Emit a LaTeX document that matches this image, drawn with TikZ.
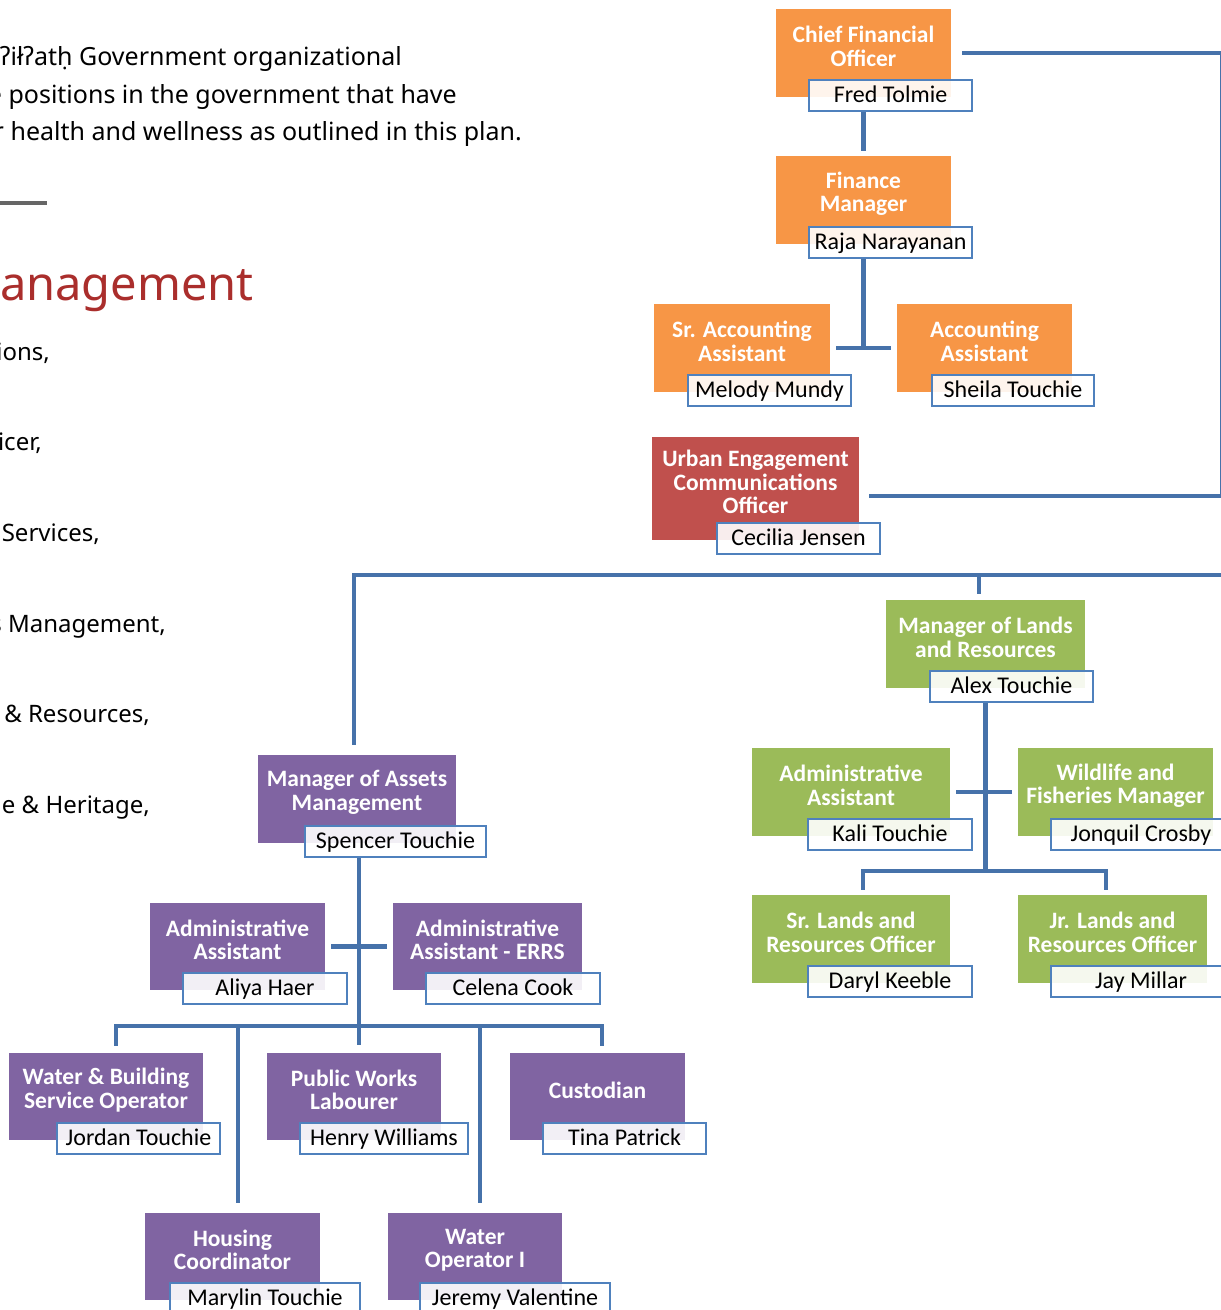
\documentclass[tikz,border=0pt]{standalone}
\usepackage{fontspec}
\newfontfamily\carl{Carlito}
\newfontfamily\bodyf{Noto Sans}
\definecolor{orng}{HTML}{F79646}
\definecolor{rdbox}{HTML}{C0504D}
\definecolor{grn}{HTML}{9BBB59}
\definecolor{prp}{HTML}{8064A2}
\definecolor{lnblue}{HTML}{4672AA}
\definecolor{nmblue}{HTML}{4F81BD}
\definecolor{headred}{HTML}{AA2E2C}
\definecolor{rulegray}{HTML}{666666}
\newcommand\role[7]{%
  \pgfmathsetmacro\rw{#5-#3}\pgfmathsetmacro\rh{#6-#4}%
  \node[titlebox, fill=#2, minimum width=\rw pt, minimum height=\rh pt] (#1) at ({(#3+#5)/2},{(#4+#6)/2}) {};
  \node[titletext] (#1-t) at ({(#3+#5)/2},{(#4+#6-13)/2}) {#7};}
\newcommand\who[5]{%
  \pgfmathsetmacro\ww{#3-#2}%
  \node[namebox, minimum width=\ww pt] (#1-n) at ({(#2+#3)/2},{#4-1.5}) {#5};}
\begin{document}
\begin{tikzpicture}[x=1pt,y=-1pt,
  titlebox/.style={rectangle, inner sep=0pt, draw=none},
  titletext/.style={align=center, text=white, inner sep=0pt, font=\carl\bfseries\fontsize{23.5}{23.5}\selectfont},
  namebox/.style={rectangle, draw=nmblue, line width=2pt, fill=white, fill opacity=0.9, text opacity=1, draw opacity=1,
    minimum height=31pt, inner sep=0pt,
    text height=18pt, text depth=4pt, font=\carl\fontsize{24}{26}\selectfont},
  conn/.style={draw=lnblue, line width=4.2pt},
  bodyt/.style={inner sep=0pt, font=\bodyf\fontsize{25}{30}\selectfont, text=black},
  listt/.style={inner sep=0pt, font=\bodyf\fontsize{24}{29}\selectfont, text=black}]
\useasboundingbox (0,0) rectangle (1221,1310);
\clip (0,0) rectangle (1221,1310);
\fill[white] (0,0) rectangle (1221,1310);
% ---- left text ----
\node[bodyt, anchor=base east] (t1) at (402,65) {Yuułuʔiłʔatḥ Government organizational};
\node[bodyt, anchor=base east] (t2) at (457,103) {e positions in the government that have};
\node[bodyt, anchor=base east] (t3) at (522,140) {r health and wellness as outlined in this plan.};
\coordinate (g1) at (-2,203);
\coordinate (g2) at (47,203);
\draw[rulegray, line width=4pt] (g1) -- (g2);
\node[inner sep=0pt, anchor=base east, text=headred, font=\bodyf\fontsize{47}{56}\selectfont] (hd) at (254,300) {anagement};
\node[listt, anchor=base east] (l1) at (50,360) {ions,};
\node[listt, anchor=base east] (l2) at (42,450) {icer,};
\node[listt, anchor=base east] (l3) at (100,541) {Services,};
\node[listt, anchor=base east] (l4) at (166,632) {s Management,};
\node[listt, anchor=base east] (l5) at (150,722) {\& Resources,};
\node[listt, anchor=base east] (l6) at (150,813) {e \& Heritage,};
% ---- title boxes ----
\role{cfo}{orng}{776}{9}{951}{97}{Chief Financial\\Officer}
\role{fin}{orng}{776}{156}{951}{244}{Finance\\Manager}
\role{sracc}{orng}{654}{304}{830}{392}{Sr. Accounting\\Assistant}
\role{acc}{orng}{897}{304}{1072}{392}{Accounting\\Assistant}
\role{urb}{rdbox}{652}{437}{859}{540}{Urban Engagement\\Communications\\Officer}
\role{lands}{grn}{886}{600}{1085}{688}{Manager of Lands\\and Resources}
\role{adming}{grn}{752}{748}{950}{836}{Administrative\\Assistant}
\role{wild}{grn}{1018}{748}{1213}{836}{Wildlife and\\Fisheries Manager}
\role{srl}{grn}{752}{895}{950}{983}{Sr. Lands and\\Resources Officer}
\role{jrl}{grn}{1018}{895}{1207}{983}{Jr. Lands and\\Resources Officer}
\role{assets}{prp}{258}{755}{456}{843}{Manager of Assets\\Management}
\role{adminp}{prp}{150}{903}{325}{990}{Administrative\\Assistant}
\role{errs}{prp}{393}{903}{582}{990}{Administrative\\Assistant - ERRS}
\role{wb}{prp}{9}{1053}{203}{1140}{Water \& Building\\Service Operator}
\role{pw}{prp}{267}{1053}{441}{1140}{Public Works\\Labourer}
\role{cust}{prp}{510}{1053}{685}{1140}{Custodian}
\role{hous}{prp}{145}{1213}{320}{1300}{Housing\\Coordinator}
\role{wop}{prp}{388}{1213}{562}{1300}{Water\\Operator I}
% ---- name boxes ----
\who{cfo}{809}{972}{97}{Fred Tolmie}
\who{fin}{809}{972}{244}{Raja Narayanan}
\who{sracc}{688}{851}{392}{Melody Mundy}
\who{acc}{932}{1094}{392}{Sheila Touchie}
\who{urb}{717}{880}{540}{Cecilia Jensen}
\who{lands}{930}{1093}{688}{Alex Touchie}
\who{adming}{808}{972}{836}{Kali Touchie}
\who{wild}{1051}{1231}{836}{Jonquil Crosby}
\who{srl}{808}{972}{983}{Daryl Keeble}
\who{jrl}{1051}{1231}{983}{Jay Millar}
\who{assets}{305}{486}{843}{Spencer Touchie}
\who{adminp}{183}{347}{990}{Aliya Haer}
\who{errs}{426}{600}{990}{Celena Cook}
\who{wb}{57}{220}{1140}{Jordan Touchie}
\who{pw}{300}{468}{1140}{Henry Williams}
\who{cust}{543}{706}{1140}{Tina Patrick}
\who{hous}{170}{360}{1300}{Marylin Touchie}
\who{wop}{420}{610}{1300}{Jeremy Valentine}
% ---- connectors ----
\coordinate (R) at (1222.5,0);
\coordinate (bus) at (0,575);
\draw[conn] (cfo.center |- cfo-n.south) -- ([yshift=5pt]fin.north);
\draw[conn] ([xshift=11pt]cfo.east) -- (cfo.east -| R);
\coordinate (u1) at ([xshift=10pt,yshift=-7.5pt]urb.east);
\draw[conn] (u1) -- (u1 -| R);
\draw[conn] (cfo.east -| R) -- (u1 -| R);
\draw[conn] (fin.center |- fin-n.south) -- (fin.center |- sracc.east);
\draw[conn] ([xshift=6pt]sracc.east) -- ([xshift=-6pt]acc.west);
\draw[conn] ([xshift=-3pt,yshift=10pt]assets.north) -- ([xshift=-3pt]assets.north |- bus) -- (bus -| R);
\draw[conn] ([xshift=-6.5pt,yshift=6pt]lands.north) -- ([xshift=-6.5pt]lands.north |- bus);
% lands subtree
\coordinate (lj) at ([yshift=24pt]srl.north -| lands.center);
\draw[conn] (lands.center |- lands-n.south) -- (lj);
\draw[conn] ([xshift=6pt]adming.east) -- ([xshift=-6pt]wild.west);
\draw[conn] ([xshift=12pt,yshift=5pt]srl.north) |- (lj) -| ([xshift=-6.5pt,yshift=5pt]jrl.north);
% assets subtree
\coordinate (aj) at ([xshift=2pt,yshift=27pt]wb.north -| assets.center);
\draw[conn] (aj |- assets-n.south) -- ([yshift=8pt]pw.north -| aj);
\draw[conn] ([xshift=6pt]adminp.east) -- ([xshift=-6pt]errs.west);
\draw[conn] ([xshift=10pt,yshift=7pt]wb.north) |- (aj) -| ([xshift=4.5pt,yshift=7pt]cust.north);
\draw[conn] ([xshift=5.5pt,yshift=10pt]hous.north) -- ([xshift=5.5pt]hous.north |- aj);
\draw[conn] ([xshift=5pt,yshift=10pt]wop.north) -- ([xshift=5pt]wop.north |- aj);
\end{tikzpicture}
\end{document}
